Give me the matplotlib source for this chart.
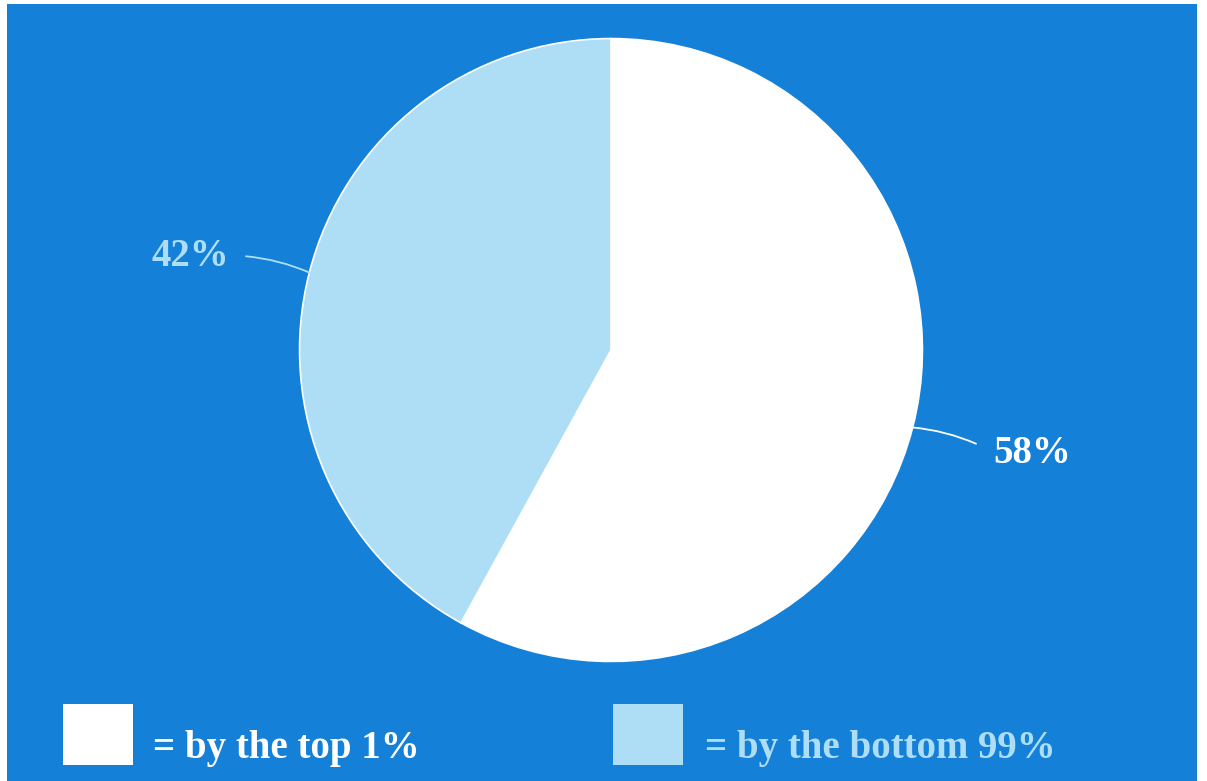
import numpy as np
import matplotlib
matplotlib.use("Agg")
import matplotlib.pyplot as plt
from matplotlib.patches import Rectangle

# Share of income growth
shares = [58, 42]
labels = ["58%", "42%"]
legend_texts = ["= by the top 1%", "= by the bottom 99%"]

BLUE = "#1580d8"
WHITE = "#ffffff"
LIGHT = "#aedef6"
colors = [WHITE, LIGHT]

W, H, DPI = 1207, 781, 100
fig = plt.figure(figsize=(W / DPI, H / DPI), dpi=DPI, facecolor="white")

# blue panel behind everything
bg = fig.add_axes([7 / W, 0, (1197 - 7) / W, (H - 4) / H], zorder=-5)
bg.set_facecolor(BLUE)
bg.set_xticks([])
bg.set_yticks([])
for s in bg.spines.values():
    s.set_visible(False)

cx, cy, r = 611, 350, 313
ax = fig.add_axes([(cx - r) / W, (H - cy - r) / H, 2 * r / W, 2 * r / H], zorder=1)

wedges, _ = ax.pie(shares, colors=colors, startangle=90, counterclock=False,
                   radius=1.0,
                   wedgeprops=dict(edgecolor="white", linewidth=1.2))
ax.set_xlim(-1.005, 1.005)
ax.set_ylim(-1.005, 1.005)
ax.set_aspect("equal")
ax.axis("off")

font = dict(family=["Liberation Serif", "DejaVu Serif"], weight="bold")

for w, lab, col in zip(wedges, labels, colors):
    mid = np.deg2rad((w.theta1 + w.theta2) / 2)
    x0, y0 = np.cos(mid), np.sin(mid)
    x1, y1 = 1.21 * np.cos(mid), 1.21 * np.sin(mid)
    side = np.sign(x0)
    ax.annotate("", xy=(x0, y0), xytext=(x1, y1),
                arrowprops=dict(arrowstyle="-", color=col, lw=1.3,
                                shrinkA=0, shrinkB=0,
                                connectionstyle="arc3,rad=%.2f" % (0.08 * side)),
                annotation_clip=False)
    ax.text(x1 + side * 0.055, y1 - 0.015 * side - 0.017, lab, color=col,
            fontsize=28, ha="left" if side > 0 else "right", va="center",
            clip_on=False, **font)

# legend
for (x0, x1, tx), col, txt in zip([(63, 133, 153), (613, 683, 705)], colors, legend_texts):
    fig.patches.append(Rectangle((x0 / W, (H - 765) / H), (x1 - x0) / W, 61 / H,
                                 transform=fig.transFigure, facecolor=col,
                                 edgecolor="none", zorder=2))
    fig.text(tx / W, (H - 758) / H, txt, color=col, fontsize=28,
             ha="left", va="baseline", zorder=2, **font)

fig.savefig("out.png", dpi=DPI, facecolor=fig.get_facecolor())
